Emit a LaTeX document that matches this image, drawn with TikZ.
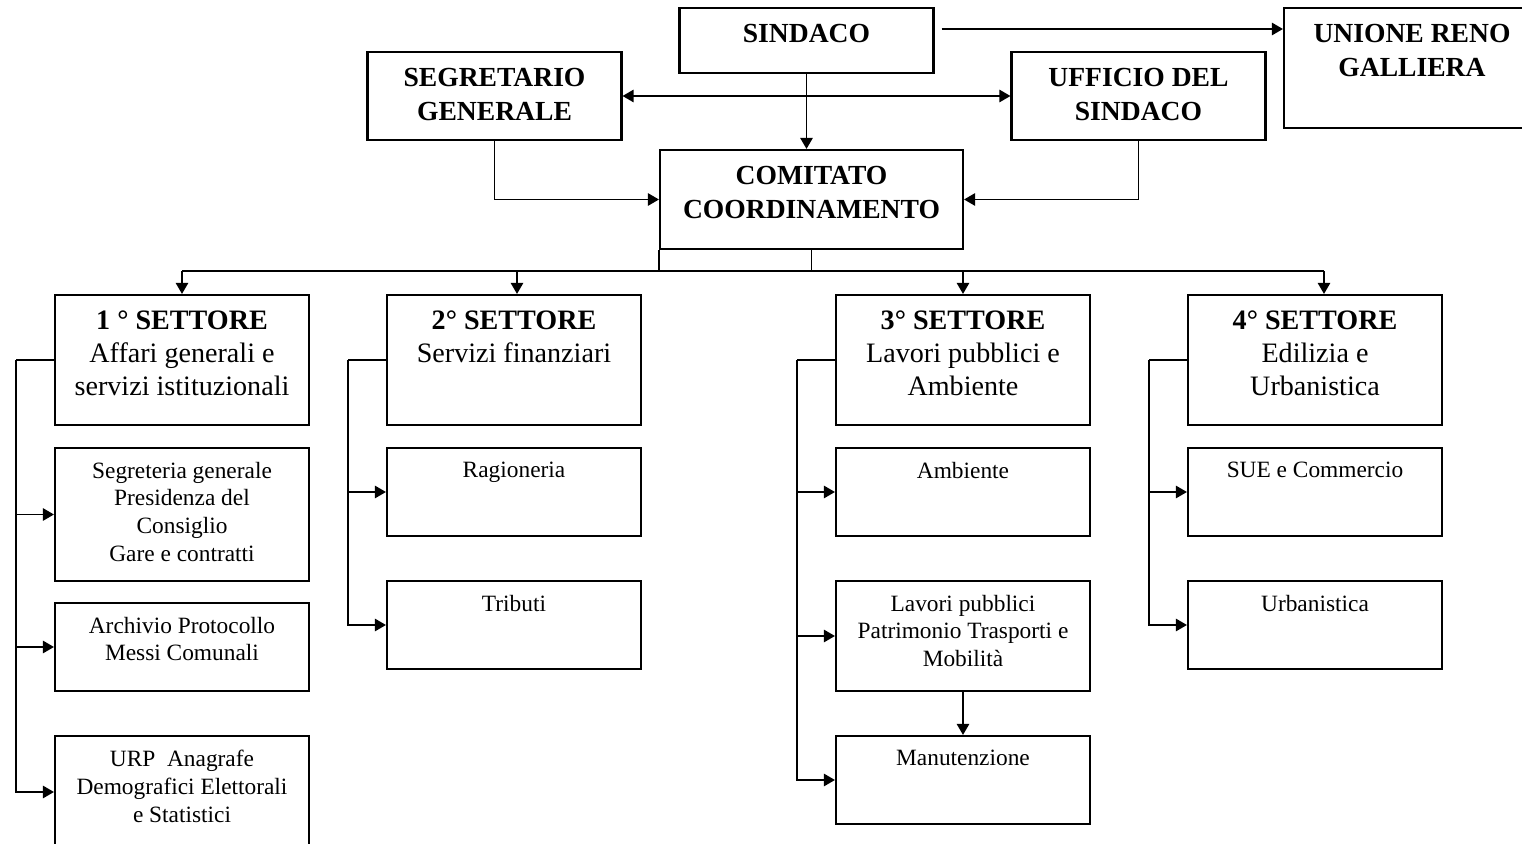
\documentclass[tikz,border=0pt]{standalone}
\usepackage{fontspec}
\setmainfont{Liberation Serif}
\usetikzlibrary{calc,arrows.meta}

\begin{document}
\begin{tikzpicture}[x=0.02cm,y=-0.02cm]
\tikzset{box/.style={draw,line width=1.2pt,inner sep=0pt,minimum width=5.08cm,minimum height=#1},
  box/.default=1.76cm,
  head/.style={anchor=north,yshift=-0.34cm,align=center,inner sep=0pt,font=\fontsize{15.7}{19.3}\selectfont\bfseries},
  sett/.style={anchor=north,yshift=-0.33cm,align=center,inner sep=0pt,font=\fontsize{16}{18.8}\selectfont},
  unit/.style={anchor=north,yshift=-0.29cm,align=center,inner sep=0pt,font=\fontsize{13.3}{15.9}\selectfont},
  line/.style={line width=1.1pt},
  arr/.style={line,-{Triangle[length=6.3pt,width=7pt]}},
  dbl/.style={line,{Triangle[length=6.3pt,width=7pt]}-{Triangle[length=6.3pt,width=7pt]}}}

\useasboundingbox (0,0) rectangle (1522,844);
\clip (0,0) rectangle (1522,844);

% vertice
\node[box=1.3cm,label={[head]north:SINDACO}] (sindaco) at (806.5,40.5) {};
\node[box,label={[head]north:SEGRETARIO\\GENERALE}] (segretario) at (494.5,96) {};
\node[box,label={[head]north:UFFICIO DEL\\SINDACO}] (ufficio) at (1138.5,96) {};
\node[box=2.4cm,minimum width=5.12cm,label={[head]north:UNIONE RENO\\GALLIERA}] (unione) at (1412,68) {};
\node[box=1.98cm,minimum width=6.06cm,label={[head]north:COMITATO\\COORDINAMENTO}] (comitato) at (811.5,199.5) {};

% settori
\node[box=2.6cm,label={[sett]north:\textbf{1 ° SETTORE}\\Affari generali e\\servizi istituzionali}] (s1) at (182,360) {};
\node[box=2.6cm,label={[sett]north:\textbf{2° SETTORE}\\Servizi finanziari}] (s2) at (514,360) {};
\node[box=2.6cm,label={[sett]north:\textbf{3° SETTORE}\\Lavori pubblici e\\Ambiente}] (s3) at (963,360) {};
\node[box=2.6cm,label={[sett]north:\textbf{4° SETTORE}\\Edilizia e\\Urbanistica}] (s4) at (1315,360) {};

% uffici
\node[box=2.66cm,label={[unit]north:Segreteria generale\\Presidenza del\\Consiglio\\Gare e contratti}] (s1a) at (182,514.5) {};
\node[box,label={[unit]north:Archivio Protocollo\\Messi Comunali}] (s1b) at (182,647) {};
\node[box=2.24cm,label={[unit]north:URP\ \ Anagrafe\\Demografici Elettorali\\e Statistici}] (s1c) at (182,792) {};
\node[box,label={[unit]north:Ragioneria}] (s2a) at (514,492) {};
\node[box,label={[unit]north:Tributi}] (s2b) at (514,625) {};
\node[box,label={[unit]north:Ambiente}] (s3a) at (963,492) {};
\node[box=2.2cm,label={[unit]north:Lavori pubblici\\Patrimonio Trasporti e\\Mobilità}] (s3b) at (963,636) {};
\node[box,label={[unit]north:Manutenzione}] (s3c) at (963,780) {};
\node[box,label={[unit]north:SUE e Commercio}] (s4a) at (1315,492) {};
\node[box,label={[unit]north:Urbanistica}] (s4b) at (1315,625) {};

% collegamenti
\coordinate (u0) at ($(sindaco.east)+(7,-11.5)$);
\draw[arr] (u0) -- (u0 -| unione.west);
\draw[dbl] (segretario.east) -- (ufficio.west);
\draw[arr] (sindaco.south) -- (sindaco.south |- comitato.north);
\draw[arr] (segretario.south) |- (comitato.west);
\draw[arr] (ufficio.south) |- (comitato.east);

\coordinate (bus) at (811.5,271);
\draw[line] (comitato.south) -- (bus);
\draw[line] (comitato.south west) -- (comitato.south west |- bus);
\draw[line] (s1.north |- bus) -- ($(s4.north |- bus)+(9,0)$);
\foreach \s/\dx in {s1/0,s2/3,s3/0,s4/9}
  \draw[arr] ($(\s.north |- bus)+(\dx,0)$) -- ($(\s.north)+(\dx,0)$);

\foreach \s/\kids in {s1/{s1a,s1b,s1c},s2/{s2a,s2b},s3/{s3a,s3b,s3c},s4/{s4a,s4b}}{
  \draw[line] (\s.west) -- ++(-38,0) coordinate (f);
  \foreach \k in \kids {\draw[arr] (f) |- (\k.west);}
}
\draw[arr] (s3b.south) -- (s3c.north);
\end{tikzpicture}
\end{document}
